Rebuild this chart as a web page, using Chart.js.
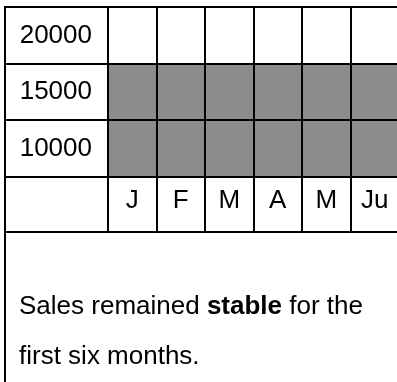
<!DOCTYPE html>
<html>
<head>
<meta charset="utf-8">
<script src="https://cdn.jsdelivr.net/npm/chart.js@4/dist/chart.umd.min.js"></script>
<style>
  html, body { margin: 0; padding: 0; background: #fff; overflow: hidden; }
  body { width: 397px; height: 382px; position: relative; font-family: "Liberation Sans", Arial, sans-serif; }
  #frame { position: absolute; left: 4px; top: 6px; width: 2px; height: 400px; background: #000; }
  #chartBox { position: absolute; left: 0; top: 0; }
  #note { position: absolute; left: 4px; top: 231px; width: 420px; border-top: 2px solid #000;
          padding: 47px 0 0 15px; font-size: 26px; line-height: 50px; color: #000; }
</style>
</head>
<body>
<div id="frame"></div>
<canvas id="chartBox" width="400" height="232"></canvas>
<div id="note">Sales remained <b>stable</b> for the<br>first six months.</div>
<script>
var months = ['J', 'F', 'M', 'A', 'M', 'Ju'];
var rowLevels = [10000, 15000, 20000];
var sales = [15000, 15000, 15000, 15000, 15000, 15000];

var rowStep = 5000;
var yMin = rowLevels[0] - rowStep / 2;
var yMax = rowLevels[rowLevels.length - 1] + rowStep / 2;
var labelFont = { family: '"Liberation Sans", Arial, sans-serif', size: 26 };

// each month shades every row up to the one holding its sales level
var bars = sales.map(function (v) { return [yMin, v + rowStep / 2]; });

new Chart(document.getElementById('chartBox'), {
  type: 'bar',
  data: {
    labels: months,
    datasets: [{
      data: bars,
      backgroundColor: '#8c8c8c',
      borderWidth: 0,
      categoryPercentage: 1,
      barPercentage: 1
    }]
  },
  options: {
    responsive: false,
    animation: false,
    layout: { padding: { left: 5, top: 7, right: 1, bottom: 0 } },
    plugins: {
      legend: { display: false },
      tooltip: { enabled: false }
    },
    scales: {
      x: {
        z: 1,
        grid: { z: 1, color: '#000', lineWidth: 2, offset: true, tickLength: 55 },
        border: { z: 1, color: '#000', width: 2 },
        ticks: { color: '#000', font: labelFont, padding: -47, maxRotation: 0, autoSkip: false },
        afterFit: function (s) { s.height = 55; }
      },
      y: {
        z: 1,
        min: yMin,
        max: yMax,
        afterBuildTicks: function (s) {
          s.ticks = rowLevels.map(function (v) { return { value: v }; });
        },
        grid: { z: 1, color: '#000', lineWidth: 2, offset: true, tickLength: 103 },
        border: { z: 1, color: '#000', width: 2 },
        ticks: {
          color: '#000', font: labelFont, padding: -87,
          callback: function (v) { return String(v); }
        },
        afterFit: function (s) { s.width = 103; }
      }
    }
  }
});
</script>
</body>
</html>
